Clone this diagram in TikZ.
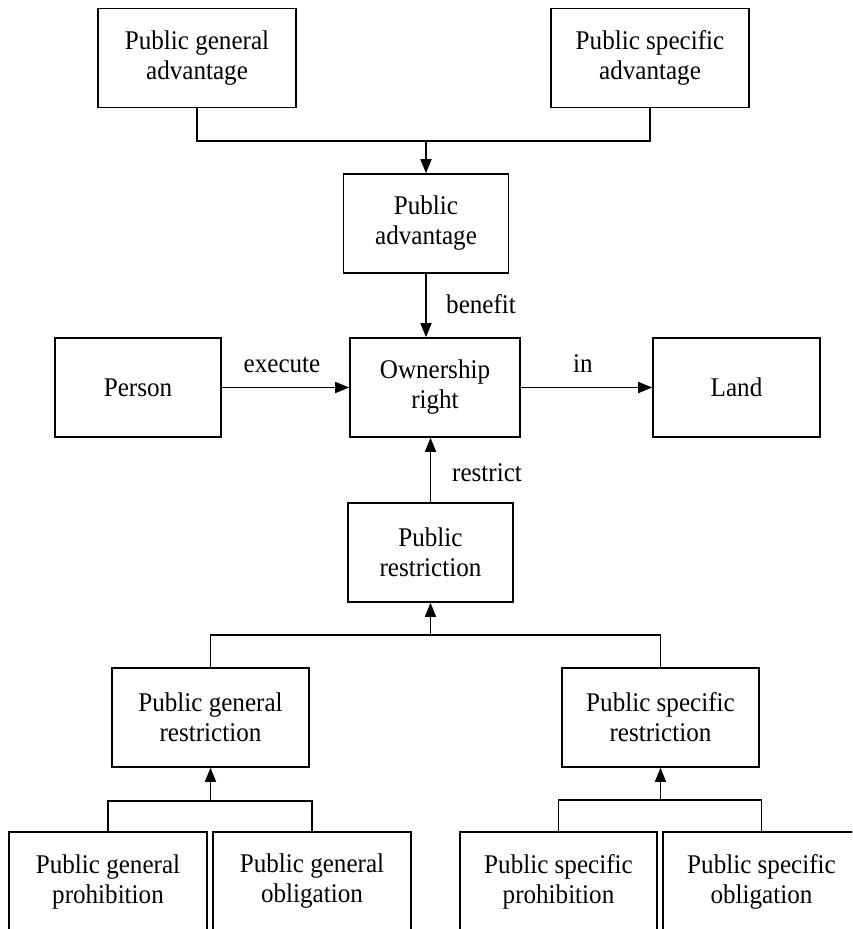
\documentclass[tikz,border=0pt]{standalone}
\usepackage{fontspec}
\setmainfont{Liberation Serif}[FakeStretch=0.93]
\usetikzlibrary{arrows.meta}
\begin{document}
\begin{tikzpicture}[x=1pt,y=-1pt,
  every node/.style={font=\fontsize{27}{30}\selectfont},
  box/.style={draw,line width=1.6pt,align=center,inner sep=0pt,minimum height=99pt},
  conn/.style={line width=1.6pt},
  arr/.style={line width=1.6pt,-{Triangle[length=14pt,width=11pt]}},
  lbl/.style={inner sep=0pt}]
\useasboundingbox (0,0) rectangle (852,929);
\clip (0,0) rectangle (852,929);
% nodes
\node[box,minimum width=198pt] (pga) at (197,58) {Public general\\advantage};
\node[box,minimum width=198pt] (psa) at (650,58) {Public specific\\advantage};
\node[box,minimum width=165pt] (pa) at (426,223.5) {Public\\advantage};
\node[box,minimum width=170pt] (own) at (435,387.5) {Ownership\\right};
\node[box,minimum width=166pt] (person) at (138,387.5) {Person};
\node[box,minimum width=167pt] (land) at (736.5,387.5) {Land};
\node[box,minimum width=165pt] (pr) at (430.5,552.5) {Public\\restriction};
\node[box,minimum width=197pt] (pgr) at (210.5,717.5) {Public general\\restriction};
\node[box,minimum width=197pt] (psr) at (660.5,717.5) {Public specific\\restriction};
\node[box,minimum width=198pt] (pgp) at (108,881.5) {Public general\\prohibition};
\node[box,minimum width=198pt] (pgo) at (312,881.5) {Public general\\obligation};
\node[box,minimum width=197pt] (psp) at (558.5,881.5) {Public specific\\prohibition};
\node[box,minimum width=197pt] (pso) at (761.5,881.5) {Public specific\\obligation};
% junction points
\coordinate (tj) at (426,141);
\coordinate (mj) at (430.5,635);
\coordinate (lj) at (210.5,801);
\coordinate (rj) at (660.5,800);
% connectors
\draw[conn] (pga.south) |- (tj) -| (psa.south);
\draw[arr] (tj) -- (pa.north);
\draw[arr] (pa.south) -- (pa.south |- own.north);
\draw[arr] (person.east) -- (own.west);
\draw[arr] (own.east) -- (land.west);
\draw[arr] (pr.north) -- (pr.north |- own.south);
\draw[conn] (pgr.north) |- (mj) -| (psr.north);
\draw[arr] (mj) -- (pr.south);
\draw[conn] (pgp.north) |- (lj) -| (pgo.north);
\draw[arr] (lj) -- (pgr.south);
\draw[conn] (psp.north) |- (rj) -| (pso.north);
\draw[arr] (rj) -- (psr.south);
% labels
\node[lbl,anchor=base] (lexec) at (282,372) {execute};
\node[lbl,anchor=base] (lin) at (583,372) {in};
\node[lbl,anchor=base west] (lben) at (446,313) {benefit};
\node[lbl,anchor=base west] (lres) at (452,481) {restrict};
\end{tikzpicture}
\end{document}
